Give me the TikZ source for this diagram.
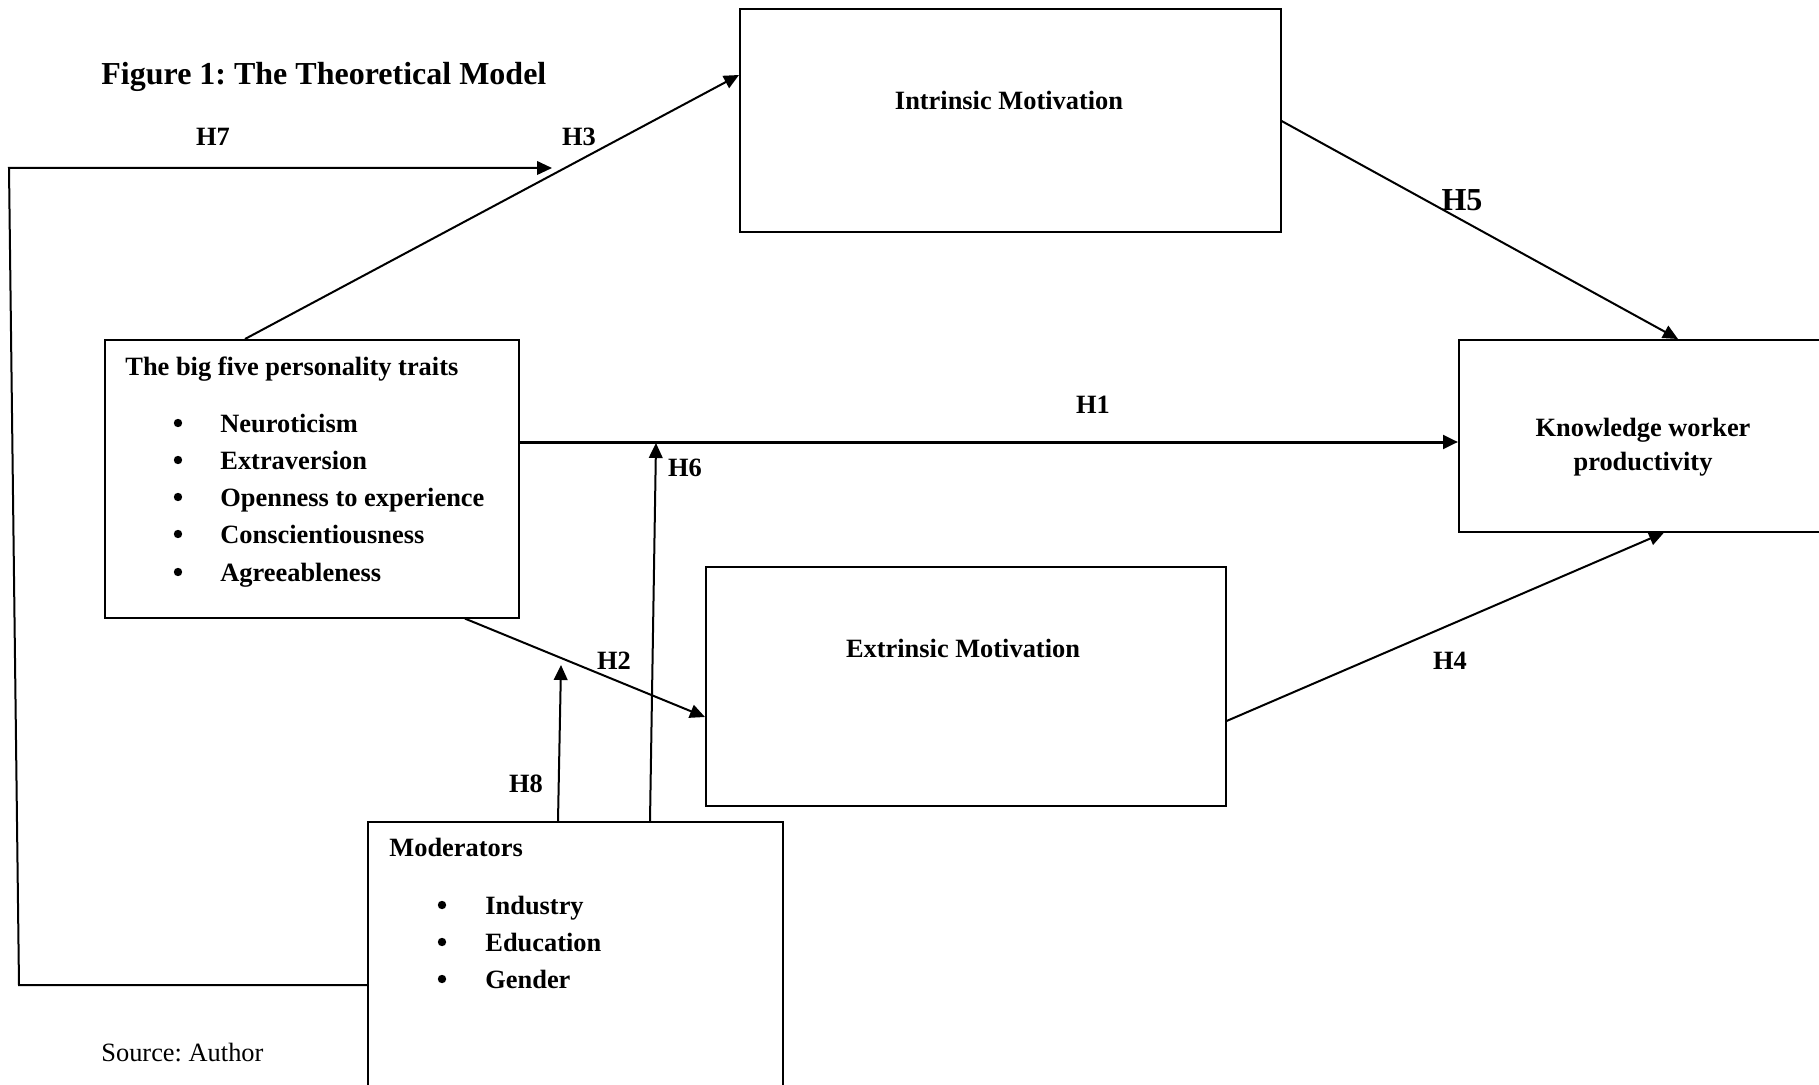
\documentclass[tikz,border=0pt]{standalone}
\usepackage{fontspec}
\setmainfont{Liberation Serif}
\usetikzlibrary{arrows.meta,calc}
\begin{document}
\frenchspacing
\begin{tikzpicture}[x=0.5pt,y=-0.5pt,
  box/.style={draw, line width=0.8pt, rectangle, inner sep=0pt, anchor=north west},
  txt/.style={inner sep=0pt, anchor=base, font=\bfseries\fontsize{13.2}{15}\selectfont},
  ltxt/.style={txt, anchor=base west},
  hlab/.style={txt},
  bul/.style={circle, fill, inner sep=0pt, minimum size=4.2pt},
  arr/.style={line width=1pt, -{Triangle[length=7.5pt,width=6.8pt]}},
  ]
\useasboundingbox (0,0) rectangle (1819,1085);

% boxes
\node[box, minimum width=270.5pt, minimum height=111.5pt] (im) at (739,8) {};
\node[box, minimum width=186pt, minimum height=96pt] (kwp) at (1458,339) {};
\node[box, minimum width=207pt, minimum height=139pt] (b5) at (104,339) {};
\node[box, minimum width=260pt, minimum height=119.5pt] (em) at (705,566) {};
\node[box, minimum width=207.5pt, minimum height=140pt] (mod) at (367,821) {};

% texts
\node[inner sep=0pt, anchor=base west, font=\bfseries\fontsize{16}{19}\selectfont] (title) at (101,85) {Figure 1: The Theoretical Model};
\node[txt] (imt) at (1009,110) {Intrinsic Motivation};
\node[txt] (emt) at (963,657) {Extrinsic Motivation};
\node[txt] (kwp1) at (1643,437) {Knowledge worker};
\node[txt] (kwp2) at (1643,470) {productivity};

\node[ltxt] (b5t) at (125,376) {The big five personality traits};
\foreach \n/\y/\t in {n1/423/Neuroticism, n2/460/Extraversion, n3/497/Openness to experience, n4/534/Conscientiousness, n5/572/Agreeableness}{
  \node[bul] (\n b) at (178,\y) {};
  \node[ltxt] (\n) at (220,\y+9) {\t};
}
\node[ltxt] (modt) at (389,856) {Moderators};
\foreach \n/\y/\t in {m1/905/Industry, m2/942/Education, m3/979/Gender}{
  \node[bul] (\n b) at (442,\y) {};
  \node[ltxt] (\n) at (485,\y+9) {\t};
}
\node[inner sep=0pt, anchor=base west, font=\fontsize{13.2}{15}\selectfont] (src) at (101,1061) {Source: Author};

% hypothesis labels
\node[hlab] (lh7) at (213,146) {H7};
\node[hlab] (lh3) at (579,146) {H3};
\node[inner sep=0pt, anchor=base, font=\bfseries\fontsize{16}{19}\selectfont] (lh5) at (1462,211) {H5};
\node[hlab] (lh1) at (1093,414) {H1};
\node[hlab] (lh6) at (685,476) {H6};
\node[hlab] (lh2) at (614,669) {H2};
\node[hlab] (lh8) at (526,792) {H8};
\node[hlab] (lh4) at (1450,669) {H4};

% connectors
\coordinate (c1) at (19,985);
\coordinate (c2) at (9,168);
\coordinate (h7end) at (552,168);
\coordinate (h6end) at (656,443);
\coordinate (h8end) at (561,665);

\draw[arr] ($(b5.north west)+(141,0)$) -- ($(im.north west)+(0,67)$);
\draw[arr] ($(mod.north west)+(0,164)$) -- (c1) -- (c2) -- (h7end);
\draw[arr] ($(im.north east)+(0,113)$) -- ($(kwp.north west)+(220,0)$);
\draw[arr, line width=1.5pt] ($(b5.north east)+(0,103)$) -- ($(kwp.north west)+(0,103)$);
\draw[arr] ($(em.north east)+(0,155)$) -- ($(kwp.south west)+(206,0)$);
\draw[arr] ($(b5.south west)+(361,0)$) -- ($(em.north west)+(0,151)$);
\draw[arr] ($(mod.north west)+(283,0)$) -- (h6end);
\draw[arr] ($(mod.north west)+(191,0)$) -- (h8end);
\end{tikzpicture}
\end{document}
